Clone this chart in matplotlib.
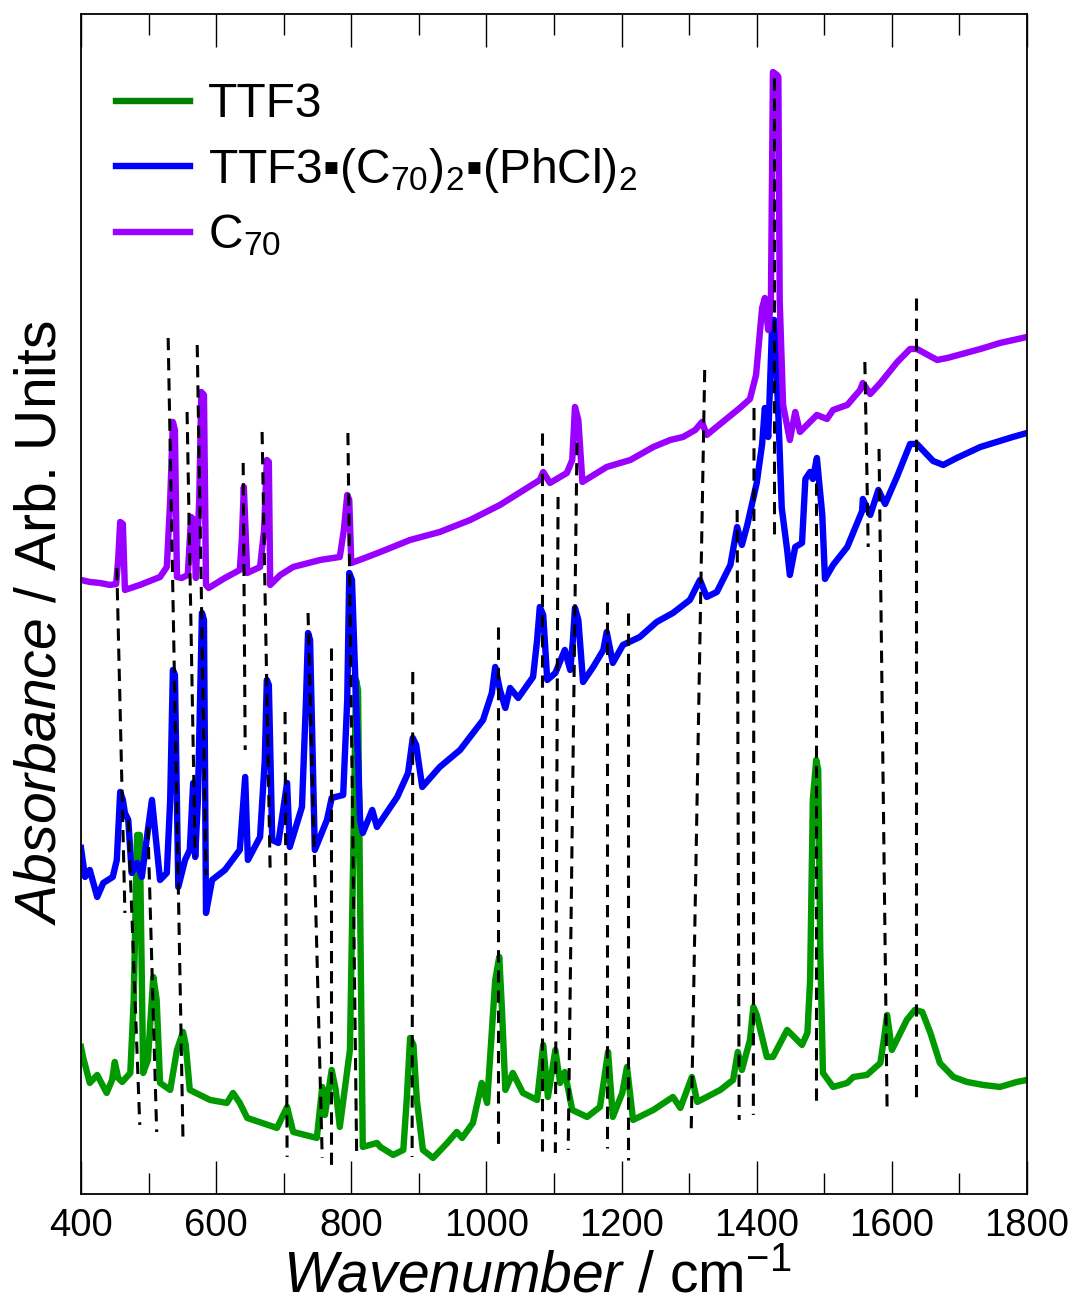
import matplotlib
matplotlib.use("Agg")
import matplotlib.pyplot as plt
from matplotlib.lines import Line2D
from matplotlib.ticker import MultipleLocator

plt.rcParams["font.family"] = ["Liberation Sans", "DejaVu Sans"]
plt.rcParams["mathtext.fontset"] = "custom"
plt.rcParams["mathtext.rm"] = "Liberation Sans"
plt.rcParams["mathtext.it"] = "Liberation Sans:italic"
plt.rcParams["mathtext.default"] = "regular"

# IR spectra, absorbance in arbitrary units (already offset for stacking)
ttf3_wn = [400, 403, 413, 424, 438, 446, 450, 455, 461, 473, 478, 483, 487, 492,
           499, 507, 512, 517, 532, 542, 551, 555, 561, 591, 616, 625, 635, 646,
           690, 705, 714, 749, 757, 761, 771, 777, 783, 798, 803, 807, 810, 813,
           817, 838, 843, 862, 877, 882, 887, 892, 897, 906, 921, 942, 956, 964,
           980, 993, 1001, 1013, 1019, 1023, 1028, 1039, 1054, 1075, 1084, 1091,
           1102, 1109, 1116, 1127, 1149, 1168, 1174, 1180, 1187, 1201, 1208, 1217,
           1247, 1276, 1287, 1304, 1312, 1346, 1365, 1372, 1378, 1390, 1395, 1400,
           1415, 1424, 1445, 1467, 1475, 1479, 1483, 1488, 1491, 1494, 1498, 1513,
           1534, 1543, 1563, 1583, 1588, 1593, 1600, 1622, 1634, 1645, 1657, 1671,
           1691, 1711, 1735, 1760, 1785, 1800]
ttf3_abs = [147, 137, 111, 119, 101, 114, 132, 116, 112, 121, 194, 359, 359, 121,
            134, 217, 194, 111, 104, 144, 162, 149, 104, 94, 91, 101, 91, 76,
            66, 87, 62, 56, 107, 79, 124, 104, 67, 144, 344, 514, 504, 294,
            47, 51, 47, 39, 44, 94, 156, 149, 94, 44, 36, 51, 62, 56,
            71, 111, 91, 214, 237, 184, 104, 121, 101, 94, 149, 97,
            144, 111, 122, 84, 77, 87, 114, 142, 77, 101, 127, 74,
            84, 97, 86, 117, 92, 104, 114, 142, 124, 154, 187, 179,
            137, 137, 164, 149, 161, 214, 394, 434, 424, 244, 121, 107,
            111, 117, 119, 131, 154, 179, 144, 174, 184, 182, 161, 131,
            117, 112, 109, 107, 112, 114]

complex_wn = [400, 406, 413, 424, 433, 447, 453, 458, 462, 465, 470, 475, 483, 490,
              499, 505, 511, 517, 527, 532, 536, 539, 544, 554, 561, 566, 569, 573,
              579, 582, 585, 594, 613, 635, 643, 647, 665, 672, 675, 678, 683, 692,
              705, 709, 727, 733, 736, 739, 746, 764, 771, 788, 794, 797, 801, 807,
              813, 817, 831, 838, 868, 884, 891, 896, 905, 931, 961, 995, 1008, 1013,
              1020, 1028, 1035, 1047, 1069, 1075, 1079, 1084, 1090, 1102, 1116, 1124,
              1128, 1131, 1136, 1143, 1158, 1173, 1178, 1187, 1202, 1227, 1252, 1276,
              1301, 1316, 1326, 1341, 1361, 1371, 1378, 1386, 1393, 1400, 1408, 1412,
              1417, 1423, 1426, 1432, 1437, 1445, 1449, 1457, 1467, 1472, 1479, 1483,
              1489, 1497, 1501, 1513, 1534, 1556, 1557, 1568, 1580, 1590, 1608, 1627,
              1637, 1661, 1676, 1696, 1731, 1779, 1800]
complex_abs = [346, 317, 324, 297, 311, 317, 334, 402, 394, 381, 374, 321, 331, 317,
               364, 394, 354, 314, 321, 394, 524, 519, 307, 334, 344, 411, 337, 394,
               581, 574, 281, 314, 324, 344, 417, 334, 357, 434, 514, 509, 354, 351,
               411, 347, 387, 494, 561, 554, 344, 374, 396, 399, 494, 621, 614, 494,
               374, 361, 384, 367, 397, 421, 456, 449, 407, 427, 444, 474, 501, 527,
               504, 486, 506, 496, 517, 554, 587, 579, 514, 521, 544, 524,
               554, 586, 574, 512, 527, 544, 562, 531, 549, 557, 572, 581,
               594, 614, 597, 602, 629, 667, 649, 669, 690, 711, 750, 786,
               757, 874, 874, 779, 686, 644, 619, 647, 651, 715, 722, 715,
               736, 679, 615, 629, 647, 683, 695, 679, 704, 690, 718, 750,
               750, 733, 729, 736, 747, 757, 761]

c70_wn = [400, 413, 428, 443, 452, 455, 458, 462, 465, 487, 517, 527, 532, 536,
          539, 542, 549, 558, 563, 567, 570, 575, 578, 582, 585, 589, 613, 635,
          638, 641, 646, 665, 671, 675, 678, 680, 695, 714, 754, 783, 789, 794,
          797, 800, 820, 843, 887, 931, 976, 1020, 1079, 1084, 1094, 1119, 1127,
          1131, 1136, 1142, 1178, 1213, 1247, 1272, 1291, 1309, 1319, 1326, 1375,
          1390, 1399, 1405, 1408, 1412, 1417, 1421, 1424, 1430, 1432, 1434, 1439,
          1449, 1457, 1464, 1489, 1504, 1513, 1534, 1553, 1557, 1568, 1583, 1608,
          1627, 1637, 1667, 1682, 1731, 1760, 1800]
c70_abs = [614, 612, 611, 609, 610, 634, 672, 670, 604, 609, 617, 627, 694, 772,
           764, 617, 616, 619, 677, 674, 616, 694, 802, 799, 609, 606, 616, 624,
           654, 707, 621, 627, 664, 734, 732, 609, 619, 627, 634, 637, 664, 699,
           694, 631, 636, 642, 654, 662, 674, 689, 714, 722, 711, 721, 734,
           787, 774, 712, 727, 734, 747, 754, 757, 764, 772, 759, 786,
           795, 819, 864, 886, 896, 864, 894, 1122, 1119, 1117, 893, 789,
           754, 782, 762, 779, 775, 784, 789, 804, 811, 800, 811, 832,
           845, 845, 834, 836, 845, 851, 857]

# dashed guides linking corresponding bands (top end -> bottom end)
guide_wn_top = [453, 529, 557, 470, 499, 572, 640, 668, 702, 736, 770, 795, 891, 1017,
                1082, 1106, 1134, 1178, 1210, 1323, 1371, 1396, 1426, 1488, 1560, 1581, 1636]
guide_abs_top = [626, 856, 782, 374, 367, 849, 731, 762, 482, 581, 546, 761, 522, 567,
                 761, 697, 751, 592, 581, 824, 684, 786, 1116, 711, 832, 745, 896]
guide_wn_bot = [465, 551, 569, 487, 512, 585, 643, 680, 705, 757, 770, 808, 890, 1017,
                1082, 1102, 1121, 1178, 1210, 1303, 1374, 1395, 1426, 1488, 1565, 1593, 1636]
guide_abs_bot = [281, 52, 337, 69, 62, 319, 444, 321, 37, 36, 27, 36, 37, 49,
                 41, 41, 44, 46, 34, 62, 74, 79, 658, 87, 647, 81, 92]

fig = plt.figure(figsize=(10.77, 13.07), dpi=100)
ax = fig.add_axes([0.0752, 0.0865, 0.8784, 0.9028])

ax.plot(ttf3_wn, ttf3_abs, color="#009900", lw=4.6, solid_joinstyle="round")
ax.plot(complex_wn, complex_abs, color="#0000ff", lw=4.6, solid_joinstyle="round")
ax.plot(c70_wn, c70_abs, color="#9900ff", lw=4.6, solid_joinstyle="round")

for x0, y0, x1, y1 in zip(guide_wn_top, guide_abs_top, guide_wn_bot, guide_abs_bot):
    ax.plot([x0, x1], [y0, y1], color="black", lw=2.2, dashes=(4, 2.6), zorder=5)

ax.set_xlim(400, 1800)
ax.set_ylim(0, 1180)
ax.xaxis.set_major_locator(MultipleLocator(200))
ax.xaxis.set_minor_locator(MultipleLocator(100))
ax.tick_params(axis="x", which="both", direction="in", top=True, bottom=True,
               width=1.0, labelsize=27.5, pad=10)
ax.tick_params(axis="x", which="major", length=23.5)
ax.tick_params(axis="x", which="minor", length=15)
ax.set_yticks([])
for sp in ax.spines.values():
    sp.set_linewidth(1.3)

ax.set_xlabel(r"$\mathit{Wavenumber}$ / cm$^{-1}$", fontsize=41)
ax.set_ylabel(r"$\mathit{Absorbance}$ / Arb. Units", fontsize=41)
ax.xaxis.set_label_coords(0.482, -0.047)
ax.yaxis.set_label_coords(-0.014, 0.484)

handles = [Line2D([], [], color="#008000", lw=4.6),
           Line2D([], [], color="#0000ff", lw=4.6),
           Line2D([], [], color="#9900ff", lw=4.6)]
labels = ["TTF3", "TTF3\u25aa(C$_{70}$)$_{2}$\u25aa(PhCl)$_{2}$", "C$_{70}$"]
ax.legend(handles, labels, loc="upper left", bbox_to_anchor=(0.037, 0.942),
          frameon=False, fontsize=34.5, handlelength=1.55, handletextpad=0.37,
          labelspacing=0.38, borderpad=0, borderaxespad=0)

fig.savefig("out.png", dpi=100)
